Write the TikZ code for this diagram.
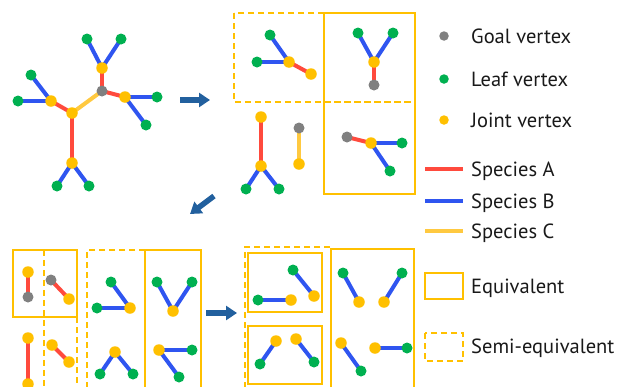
\documentclass[tikz,border=0pt]{standalone}
\usepackage{fontspec}
\setmainfont{PT Sans}
\usetikzlibrary{arrows.meta}
\definecolor{cred}{HTML}{FF4A3D}
\definecolor{cblue}{HTML}{2F55F0}
\definecolor{cyel}{HTML}{FFC000}
\definecolor{cyl}{HTML}{FFC940}
\definecolor{cgreen}{HTML}{00B050}
\definecolor{cgray}{HTML}{808080}
\definecolor{carrow}{HTML}{22609E}
\pgfdeclarelayer{bg}
\pgfsetlayers{bg,main}
\tikzset{
  leaf/.style={circle, fill=cgreen, inner sep=0pt, minimum size=11pt},
  joint/.style={circle, fill=cyel, inner sep=0pt, minimum size=11.5pt},
  goal/.style={circle, fill=cgray, inner sep=0pt, minimum size=11pt},
  ea/.style={line width=4pt, draw=cred},
  eb/.style={line width=4pt, draw=cblue},
  ec/.style={line width=4pt, draw=cyl},
  eqbox/.style={draw=cyel, line width=1.7pt},
  semibox/.style={draw=cyel, line width=1.7pt, dash pattern=on 6pt off 4pt},
  bigarrow/.style={draw=carrow, line width=5.5pt, -{Triangle[width=14pt,length=11pt]}},
  lbl/.style={anchor=base west, inner sep=0pt, font=\fontsize{20.5}{24}\selectfont, text=black!90},
}
\begin{document}
\begin{tikzpicture}[x=1pt,y=-1pt]
\useasboundingbox (0,0) rectangle (618,386);
% ---------- main tree ----------
\node[goal] (g0) at (102,91) {};
\node[joint] (j1) at (102,68) {};
\node[leaf] (l1) at (87,39) {};
\node[leaf] (l2) at (121,39) {};
\node[joint] (j2) at (125,97) {};
\node[leaf] (l3) at (157,97) {};
\node[leaf] (l4) at (146,125) {};
\node[joint] (j3) at (72,113) {};
\node[joint] (j4) at (51,101) {};
\node[leaf] (l5) at (18,101) {};
\node[leaf] (l6) at (31,75) {};
\node[joint] (j5) at (72,163) {};
\node[leaf] (l7) at (57,186) {};
\node[leaf] (l8) at (89,186) {};
\begin{pgfonlayer}{bg}
\draw[ea] (g0.center) -- (j1.center);
\draw[eb] (j1.center) -- (l1.center);
\draw[eb] (j1.center) -- (l2.center);
\draw[ea] (g0.center) -- (j2.center);
\draw[eb] (j2.center) -- (l3.center);
\draw[eb] (j2.center) -- (l4.center);
\draw[ec] (g0.center) -- (j3.center);
\draw[ea] (j3.center) -- (j4.center);
\draw[eb] (j4.center) -- (l5.center);
\draw[eb] (j4.center) -- (l6.center);
\draw[ea] (j3.center) -- (j5.center);
\draw[eb] (j5.center) -- (l7.center);
\draw[eb] (j5.center) -- (l8.center);
\end{pgfonlayer}
% ---------- arrows ----------
\coordinate (a1s) at (180,100); \coordinate (a1e) at (210,100);
\draw[bigarrow] (a1s) -- (a1e);
\coordinate (a2s) at (214,196); \coordinate (a2e) at (190,214);
\draw[bigarrow] (a2s) -- (a2e);
\coordinate (a3s) at (206,313); \coordinate (a3e) at (237,313);
\draw[bigarrow] (a3s) -- (a3e);
% ---------- top right group ----------
\draw[semibox] (234,13) rectangle (415,102);
\draw[eqbox] (324,13) rectangle (415,194);
\draw[semibox] (324,102) -- (415,102);
\node[leaf] (t1) at (270,35) {};
\node[leaf] (t2) at (257,62) {};
\node[joint] (t3) at (289,62) {};
\node[joint] (t4) at (311,74) {};
\node[leaf] (t5) at (358,33) {};
\node[leaf] (t6) at (393,33) {};
\node[joint] (t7) at (374,62) {};
\node[goal] (t8) at (374,85) {};
\node[joint] (t9) at (261,117) {};
\node[joint] (t10) at (261,166) {};
\node[leaf] (t11) at (246,189) {};
\node[leaf] (t12) at (279,189) {};
\node[goal] (t13) at (299,128) {};
\node[joint] (t14) at (299,164) {};
\node[goal] (t15) at (347,137) {};
\node[joint] (t16) at (371,143) {};
\node[leaf] (t17) at (402,143) {};
\node[leaf] (t18) at (390,171) {};
\begin{pgfonlayer}{bg}
\draw[eb] (t3.center) -- (t1.center);
\draw[eb] (t3.center) -- (t2.center);
\draw[ea] (t3.center) -- (t4.center);
\draw[eb] (t7.center) -- (t5.center);
\draw[eb] (t7.center) -- (t6.center);
\draw[ea] (t7.center) -- (t8.center);
\draw[ea] (t9.center) -- (t10.center);
\draw[eb] (t10.center) -- (t11.center);
\draw[eb] (t10.center) -- (t12.center);
\draw[ec] (t13.center) -- (t14.center);
\draw[ea] (t15.center) -- (t16.center);
\draw[eb] (t16.center) -- (t17.center);
\draw[eb] (t16.center) -- (t18.center);
\end{pgfonlayer}
% ---------- bottom left group ----------
\draw[eqbox] (13,250) rectangle (77,317);
\draw[semibox] (44,250) -- (44,392);
\draw[semibox] (77,317) -- (77,392);
\node[joint] (b1) at (28,272) {};
\node[goal] (b2) at (28,297) {};
\node[goal] (b3) at (51,280) {};
\node[joint] (b4) at (69,299) {};
\node[joint] (b5) at (28,338) {};
\node[joint] (b6) at (28,384) {};
\node[joint] (b7) at (52,345) {};
\node[joint] (b8) at (69,362) {};
\begin{pgfonlayer}{bg}
\draw[ea] (b1.center) -- (b2.center);
\draw[ea] (b3.center) -- (b4.center);
\draw[ea] (b5.center) -- (b6.center);
\draw[ea] (b7.center) -- (b8.center);
\end{pgfonlayer}
\draw[semibox] (145,250) -- (87,250) -- (87,392);
\draw[eqbox] (145,392) -- (145,250) -- (201,250) -- (201,392);
\node[leaf] (c1) at (111,282) {};
\node[leaf] (c2) at (97,308) {};
\node[joint] (c3) at (130,308) {};
\node[joint] (c4) at (115,352) {};
\node[leaf] (c5) at (100,374) {};
\node[leaf] (c6) at (133,374) {};
\node[leaf] (c7) at (157,282) {};
\node[leaf] (c8) at (192,282) {};
\node[joint] (c9) at (173,311) {};
\node[joint] (c10) at (159,350) {};
\node[leaf] (c11) at (192,350) {};
\node[leaf] (c12) at (179,377) {};
\begin{pgfonlayer}{bg}
\draw[eb] (c3.center) -- (c1.center);
\draw[eb] (c3.center) -- (c2.center);
\draw[eb] (c4.center) -- (c5.center);
\draw[eb] (c4.center) -- (c6.center);
\draw[eb] (c9.center) -- (c7.center);
\draw[eb] (c9.center) -- (c8.center);
\draw[eb] (c10.center) -- (c11.center);
\draw[eb] (c10.center) -- (c12.center);
\end{pgfonlayer}
% ---------- bottom right group ----------
\draw[semibox] (330,247) -- (245,247) -- (245,392);
\draw[eqbox] (248,253) rectangle (322,312);
\draw[eqbox] (248,326) rectangle (322,384);
\draw[eqbox] (331,392) -- (331,249) -- (414,249) -- (414,392);
\node[leaf] (d1) at (258,300) {};
\node[joint] (d2) at (291,300) {};
\node[leaf] (d3) at (293,270) {};
\node[joint] (d4) at (314,296) {};
\node[leaf] (d5) at (260,364) {};
\node[joint] (d6) at (276,341) {};
\node[joint] (d7) at (296,339) {};
\node[leaf] (d8) at (314,362) {};
\node[leaf] (d9) at (343,273) {};
\node[joint] (d10) at (359,302) {};
\node[leaf] (d11) at (402,273) {};
\node[joint] (d12) at (384,302) {};
\node[joint] (d13) at (341,343) {};
\node[leaf] (d14) at (361,371) {};
\node[joint] (d15) at (375,348) {};
\node[leaf] (d16) at (407,348) {};
\begin{pgfonlayer}{bg}
\draw[eb] (d1.center) -- (d2.center);
\draw[eb] (d3.center) -- (d4.center);
\draw[eb] (d5.center) -- (d6.center);
\draw[eb] (d7.center) -- (d8.center);
\draw[eb] (d9.center) -- (d10.center);
\draw[eb] (d11.center) -- (d12.center);
\draw[eb] (d13.center) -- (d14.center);
\draw[eb] (d15.center) -- (d16.center);
\end{pgfonlayer}
% ---------- legend ----------
\node[goal, minimum size=9.5pt] (kg) at (444,36) {};
\node[leaf, minimum size=9.5pt] (kl) at (444,79) {};
\node[joint, minimum size=9.5pt] (kj) at (444,120) {};
\node[lbl] (tg) at (471,43) {Goal vertex};
\node[lbl] (tl) at (471,86) {Leaf vertex};
\node[lbl] (tj) at (471,127) {Joint vertex};
\draw[ea] (425,169) -- (463,169);
\draw[eb] (425,201) -- (463,201);
\draw[ec] (425,231) -- (463,231);
\node[lbl] (ta) at (471,176) {Species A};
\node[lbl] (tb) at (471,208) {Species B};
\node[lbl] (tc) at (471,238) {Species C};
\draw[eqbox] (425,273) rectangle (463,299);
\draw[semibox] (425,333) rectangle (463,361);
\node[lbl] (te) at (471,293) {Equivalent};
\node[lbl] (ts) at (471,353) {Semi-equivalent};
\end{tikzpicture}
\end{document}
